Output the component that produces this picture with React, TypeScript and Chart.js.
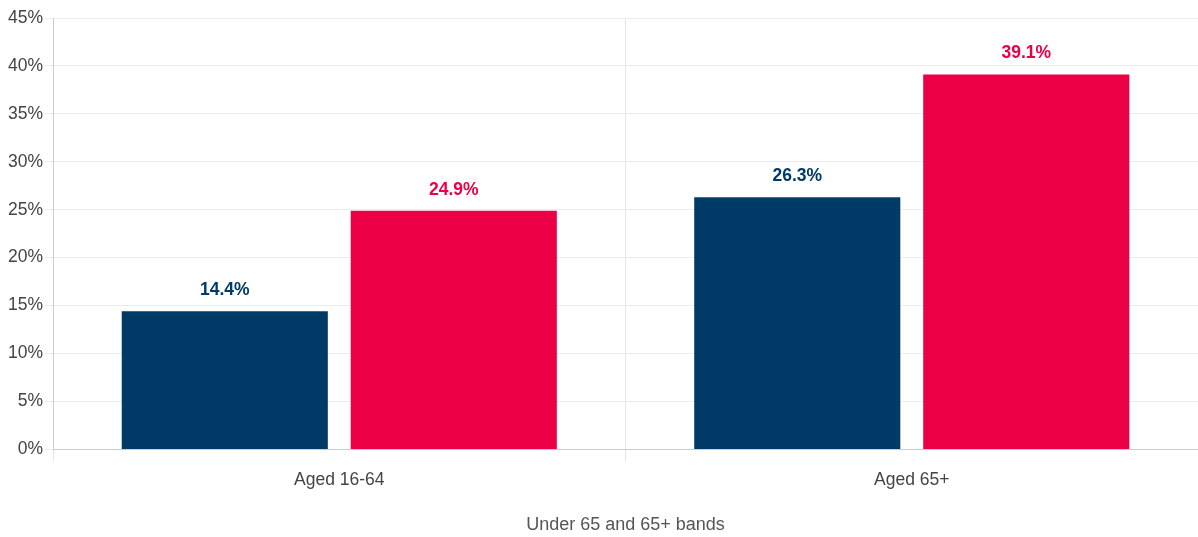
import React, { useEffect, useRef } from "react";
import { Chart, registerables } from "chart.js";

Chart.register(...registerables);

const categories = ["Aged 16-64", "Aged 65+"];
const seriesA = [14.4, 26.3];
const seriesB = [24.9, 39.1];
const seriesColors = ["#003a66", "#eb0045"];
const xTitle = "Under 65 and 65+ bands";

const FONT = "'Liberation Sans', Arial, sans-serif";

const labelPlugin = {
  id: "barLabels",
  afterDatasetsDraw(chart: any) {
    const ctx = chart.ctx;
    ctx.save();
    ctx.font = `bold 17.5px ${FONT}`;
    ctx.textAlign = "center";
    ctx.textBaseline = "middle";
    chart.data.datasets.forEach((ds: any, di: number) => {
      const meta = chart.getDatasetMeta(di);
      meta.data.forEach((el: any, i: number) => {
        ctx.fillStyle = seriesColors[di];
        ctx.fillText(ds.data[i].toFixed(1) + "%", el.x, el.y - 21);
      });
    });
    ctx.restore();
  },
};

export default function App() {
  const ref = useRef<HTMLCanvasElement | null>(null);
  useEffect(() => {
    document.body.style.margin = "0";
    const chart = new Chart(ref.current as HTMLCanvasElement, {
      type: "bar",
      data: {
        labels: categories,
        datasets: [
          { label: "A", data: seriesA, backgroundColor: seriesColors[0] },
          { label: "B", data: seriesB, backgroundColor: seriesColors[1] },
        ],
      },
      options: {
        animation: false,
        responsive: false,
        layout: { padding: { top: 18, right: 0, left: 6, bottom: 1 } },
        plugins: { legend: { display: false }, tooltip: { enabled: false } },
        scales: {
          x: {
            grid: { color: "#e6e6e6", tickLength: 12, drawOnChartArea: true },
            border: { color: "#cccccc" },
            ticks: { color: "#444", font: { family: FONT, size: 17.5 }, padding: 8 },
            title: {
              display: true,
              text: xTitle,
              color: "#555",
              font: { family: FONT, size: 18 },
              padding: { top: 16, bottom: 0 },
            },
          },
          y: {
            min: 0,
            max: 45,
            ticks: {
              stepSize: 5,
              color: "#444",
              font: { family: FONT, size: 17.5 },
              padding: 2,
              callback: (v: any) => v + "%",
            },
            grid: { color: "#ececec", tickLength: 8 },
            border: { color: "#cccccc" },
          },
        },
      },
      plugins: [labelPlugin],
    });
    return () => chart.destroy();
  }, []);
  return (
    <div style={{ width: 1198, height: 537 }}>
      <canvas ref={ref} width={1198} height={537} />
    </div>
  );
}
